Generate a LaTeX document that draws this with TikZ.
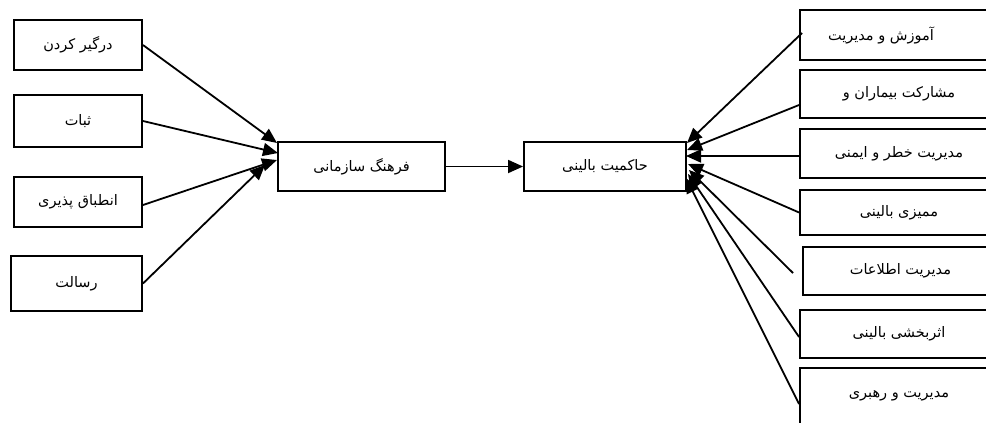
\documentclass[tikz,border=0pt]{standalone}
\usepackage{fontspec}
\usetikzlibrary{arrows.meta,calc}
\TeXXeTstate=1
\newfontfamily\arabicfont[Script=Arabic]{DejaVu Sans}
\newcommand{\fa}[1]{{\arabicfont\beginR #1\endR}}
\tikzset{
  box/.style={draw, line width=1.9pt, inner sep=0pt, font=\fontsize{14.5pt}{17pt}\selectfont},
  conn/.style={line width=1.8pt, -{Triangle[length=15pt,width=13pt]}}
}
\begin{document}
\begin{tikzpicture}[x=1pt,y=-1pt]
\useasboundingbox (0,0) rectangle (986,423);
\clip (0,0) rectangle (986,423);
% left boxes
\node[box, minimum width=128pt, minimum height=50pt] (l1) at (78,45) {\fa{درگیر کردن}};
\node[box, minimum width=128pt, minimum height=52pt] (l2) at (78,121) {\fa{ثبات}};
\node[box, minimum width=128pt, minimum height=50pt] (l3) at (78,202) {\fa{انطباق پذیری}};
\node[box, minimum width=131pt, minimum height=55pt] (l4) at (76.5,283.5) {\fa{رسالت}};
% centre boxes
\node[box, minimum width=167pt, minimum height=49pt] (fh) at (361.5,166.5) {\fa{فرهنگ سازمانی}};
\node[box, minimum width=162pt, minimum height=49pt] (hb) at (605,166.5) {\fa{حاکمیت بالینی}};
% right boxes
\node[box, minimum width=198pt, minimum height=50pt] (r1) at (899,35) {\fa{آموزش و مدیریت}\hspace*{36pt}};
\node[box, minimum width=198pt, minimum height=48pt] (r2) at (899,94) {\fa{مشارکت بیماران و}};
\node[box, minimum width=198pt, minimum height=49pt] (r3) at (899,153.5) {\fa{مدیریت خطر و ایمنی}};
\node[box, minimum width=198pt, minimum height=45pt] (r4) at (899,212.5) {\fa{ممیزی بالینی}};
\node[box, minimum width=195pt, minimum height=48pt] (r5) at (900.5,271) {\fa{مدیریت اطلاعات}};
\node[box, minimum width=198pt, minimum height=48pt] (r6) at (899,334) {\fa{اثربخشی بالینی}};
\node[box, minimum width=198pt, minimum height=56pt] (r7) at (899,396) {\fa{مدیریت و رهبری}};
% connector end points
\coordinate (fa1) at (277,143);
\coordinate (fa2) at (278,153);
\coordinate (fa3) at (277,160);
\coordinate (fa4) at (265,165);
\coordinate (hb1) at (687,143);
\coordinate (hb2) at (687,150);
\coordinate (hb3) at (686,156);
\coordinate (hb4) at (688,164);
\coordinate (hb5) at (689,170);
\coordinate (hb6) at (688,174);
\coordinate (hb7) at (686,178);
\coordinate (s2) at ($(r2.west)+(0,11)$);
\coordinate (s5) at (793,273);
\coordinate (s6) at ($(r6.west)+(0,3)$);
\coordinate (s7) at ($(r7.north west)+(0,37)$);
% connectors
\draw[conn] (l1.east) -- (fa1);
\draw[conn] (l2.east) -- (fa2);
\draw[conn] ($(l3.east)+(0,3)$) -- (fa3);
\draw[conn] (l4.east) -- (fa4);
\draw[conn] (fh.east) -- (hb.west);
\draw[conn] ($(r1.west)+(3,-2)$) -- (hb1);
\draw[conn] (s2) -- (hb2);
\draw[conn] ($(r3.west)+(0,2.5)$) -- (hb3);
\draw[conn] (r4.west) -- (hb4);
\draw[conn] (s5) -- (hb5);
\draw[conn] (s6) -- (hb6);
\draw[conn] (s7) -- (hb7);
\end{tikzpicture}
\end{document}
